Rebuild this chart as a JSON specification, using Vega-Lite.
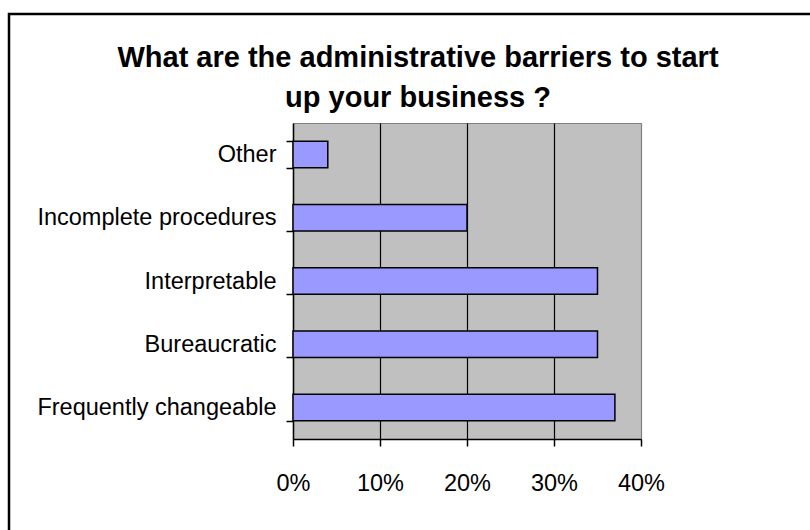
{
  "$schema": "https://vega.github.io/schema/vega-lite/v6.json",
  "width": 348,
  "height": 316,
  "autosize": {"type": "none"},
  "padding": {"left": 293, "top": 123, "right": 169, "bottom": 91},
  "background": "white",
  "view": {"fill": "#C0C0C0", "stroke": "#808080", "strokeWidth": 1},
  "title": {
    "text": ["What are the administrative barriers to start", "up your business ?"],
    "font": "Liberation Sans",
    "fontSize": 29,
    "fontWeight": "bold",
    "color": "black",
    "lineHeight": 40,
    "anchor": "middle",
    "frame": "group",
    "dx": -49,
    "offset": -100
  },
  "layer": [
    {
      "data": {"values": [
        {"barrier": "Other", "share": 0.04},
        {"barrier": "Incomplete procedures", "share": 0.20},
        {"barrier": "Interpretable", "share": 0.35},
        {"barrier": "Bureaucratic", "share": 0.35},
        {"barrier": "Frequently changeable", "share": 0.37}
      ]},
      "mark": {"type": "bar", "fill": "#9999FF", "stroke": "black", "strokeWidth": 1.5},
      "encoding": {
        "y": {
          "field": "barrier", "type": "nominal",
          "sort": ["Other", "Incomplete procedures", "Interpretable", "Bureaucratic", "Frequently changeable"],
          "scale": {"paddingInner": 0.58, "paddingOuter": 0.29},
          "axis": {
            "title": null,
            "domainColor": "black", "domainWidth": 1.5,
            "tickColor": "black", "tickWidth": 1.5, "tickSize": 7, "tickBand": "extent",
            "labelFont": "Liberation Sans", "labelFontSize": 23.5, "labelColor": "black",
            "labelPadding": 10, "labelLimit": 400, "grid": false
          }
        },
        "x": {
          "field": "share", "type": "quantitative",
          "scale": {"domain": [0, 0.4], "nice": false},
          "axis": {
            "title": null, "format": ".0%", "values": [0, 0.1, 0.2, 0.3, 0.4],
            "domainColor": "black", "domainWidth": 1.5,
            "tickColor": "black", "tickWidth": 1.5, "tickSize": 7,
            "labelFont": "Liberation Sans", "labelFontSize": 23.5, "labelColor": "black",
            "labelPadding": 25, "labelFlush": false, "labelOverlap": false,
            "grid": true, "gridWidth": 1.2,
            "gridColor": {"condition": {"test": "datum.value >= 0.4 || datum.value <= 0", "value": "#808080"}, "value": "black"}
          }
        }
      }
    },
    {
      "data": {"values": [{"frame": "chart border"}]},
      "mark": {"type": "rect", "x": -284, "y": -109, "x2": 540, "y2": 440, "fill": null, "stroke": "black", "strokeWidth": 2.5},
      "encoding": {}
    }
  ]
}
